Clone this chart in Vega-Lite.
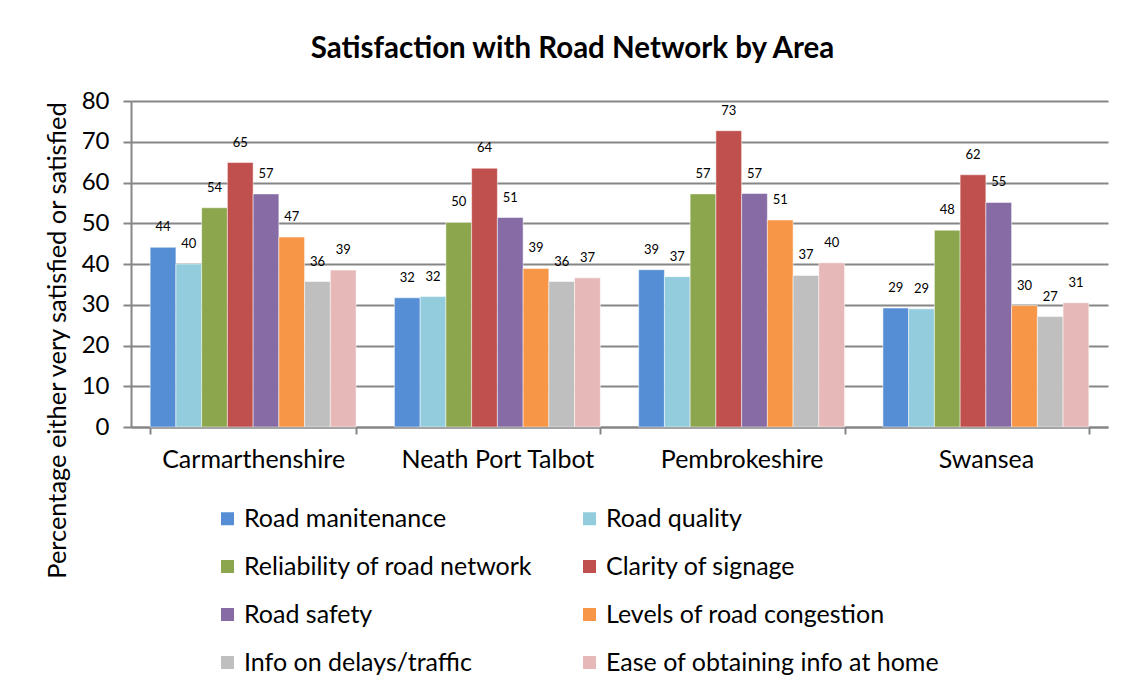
{
  "$schema": "https://vega.github.io/schema/vega-lite/v6.json",
  "autosize": "none",
  "width": 977,
  "height": 326,
  "padding": {"left": 131, "top": 101, "right": 24, "bottom": 261},
  "background": "white",
  "title": {"text": "Satisfaction with Road Network by Area", "font": "Lato", "fontSize": 29.5, "fontWeight": "bold", "color": "#000000", "offset": 25, "dx": -47, "anchor": "middle", "frame": "group"},
  "config": {
    "font": "Lato",
    "view": {"stroke": null}
  },
  "data": {"values": [
    {"area": "Carmarthenshire", "measure": "Road manitenance", "value": 44.1},
    {"area": "Carmarthenshire", "measure": "Road quality", "value": 40.0},
    {"area": "Carmarthenshire", "measure": "Reliability of road network", "value": 53.8},
    {"area": "Carmarthenshire", "measure": "Clarity of signage", "value": 64.9},
    {"area": "Carmarthenshire", "measure": "Road safety", "value": 57.2},
    {"area": "Carmarthenshire", "measure": "Levels of road congestion", "value": 46.6},
    {"area": "Carmarthenshire", "measure": "Info on delays/traffic", "value": 35.7},
    {"area": "Carmarthenshire", "measure": "Ease of obtaining info at home", "value": 38.5},
    {"area": "Neath Port Talbot", "measure": "Road manitenance", "value": 31.7},
    {"area": "Neath Port Talbot", "measure": "Road quality", "value": 32.0},
    {"area": "Neath Port Talbot", "measure": "Reliability of road network", "value": 50.2},
    {"area": "Neath Port Talbot", "measure": "Clarity of signage", "value": 63.5},
    {"area": "Neath Port Talbot", "measure": "Road safety", "value": 51.4},
    {"area": "Neath Port Talbot", "measure": "Levels of road congestion", "value": 38.9},
    {"area": "Neath Port Talbot", "measure": "Info on delays/traffic", "value": 35.7},
    {"area": "Neath Port Talbot", "measure": "Ease of obtaining info at home", "value": 36.6},
    {"area": "Pembrokeshire", "measure": "Road manitenance", "value": 38.6},
    {"area": "Pembrokeshire", "measure": "Road quality", "value": 36.9},
    {"area": "Pembrokeshire", "measure": "Reliability of road network", "value": 57.2},
    {"area": "Pembrokeshire", "measure": "Clarity of signage", "value": 72.7},
    {"area": "Pembrokeshire", "measure": "Road safety", "value": 57.3},
    {"area": "Pembrokeshire", "measure": "Levels of road congestion", "value": 50.8},
    {"area": "Pembrokeshire", "measure": "Info on delays/traffic", "value": 37.2},
    {"area": "Pembrokeshire", "measure": "Ease of obtaining info at home", "value": 40.3},
    {"area": "Swansea", "measure": "Road manitenance", "value": 29.2},
    {"area": "Swansea", "measure": "Road quality", "value": 29.0},
    {"area": "Swansea", "measure": "Reliability of road network", "value": 48.3},
    {"area": "Swansea", "measure": "Clarity of signage", "value": 61.9},
    {"area": "Swansea", "measure": "Road safety", "value": 55.1},
    {"area": "Swansea", "measure": "Levels of road congestion", "value": 29.8},
    {"area": "Swansea", "measure": "Info on delays/traffic", "value": 27.1},
    {"area": "Swansea", "measure": "Ease of obtaining info at home", "value": 30.5}
  ]},
  "encoding": {
    "x": {"field": "area", "type": "nominal", "sort": null,
      "scale": {"paddingInner": 0.157, "paddingOuter": 0.0785},
      "axis": {"title": null, "labelAngle": 0, "labelFontSize": 25, "labelLimit": 400, "labelColor": "#000000", "labelPadding": 13, "tickBand": "extent", "tickSize": 7, "tickColor": "#868686", "tickWidth": 2, "domainColor": "#868686", "domainWidth": 2}},
    "xOffset": {"field": "measure", "type": "nominal", "sort": null},
    "y": {"field": "value", "type": "quantitative",
      "scale": {"domain": [0, 80]},
      "axis": {"title": "Percentage either very satisfied or satisfied", "titleFontSize": 25.4, "titleFontWeight": "normal", "titleColor": "#000000", "titleX": -74, "titleY": 239, "titleAngle": -90, "titleAlign": "center", "titleBaseline": "middle", "values": [0,10,20,30,40,50,60,70,80], "labelOverlap": false, "labelFontSize": 24, "labelColor": "#000000", "labelPadding": 14, "tickSize": 8, "tickColor": "#868686", "tickWidth": 2, "gridColor": "#868686", "gridWidth": 2, "domainColor": "#868686", "domainWidth": 2}}
  },
  "layer": [
    {
      "mark": {"type": "bar", "stroke": "white", "strokeWidth": 0.5},
      "encoding": {
        "color": {"field": "measure", "type": "nominal", "sort": null,
          "scale": {"domain": ["Road manitenance", "Road quality", "Reliability of road network", "Clarity of signage", "Road safety", "Levels of road congestion", "Info on delays/traffic", "Ease of obtaining info at home"],
            "range": ["#558ED5", "#93CDDD", "#8BA64C", "#C0504D", "#866BA5", "#F79646", "#BFBFBF", "#E6B9B8"]},
          "legend": {"title": null, "orient": "none", "direction": "horizontal", "legendX": 84, "legendY": 405, "columns": 2, "labelFontSize": 25, "labelColor": "#000000", "symbolType": "square", "symbolSize": 169, "symbolStrokeWidth": 0, "rowPadding": 22, "columnPadding": 44, "labelOffset": 4, "labelLimit": 500}}
      }
    },
    {
      "mark": {"type": "text", "fontSize": 13, "baseline": "bottom", "dy": -13, "color": "#000000"},
      "encoding": {"text": {"field": "value", "type": "quantitative", "format": ".0f"}}
    }
  ]
}
